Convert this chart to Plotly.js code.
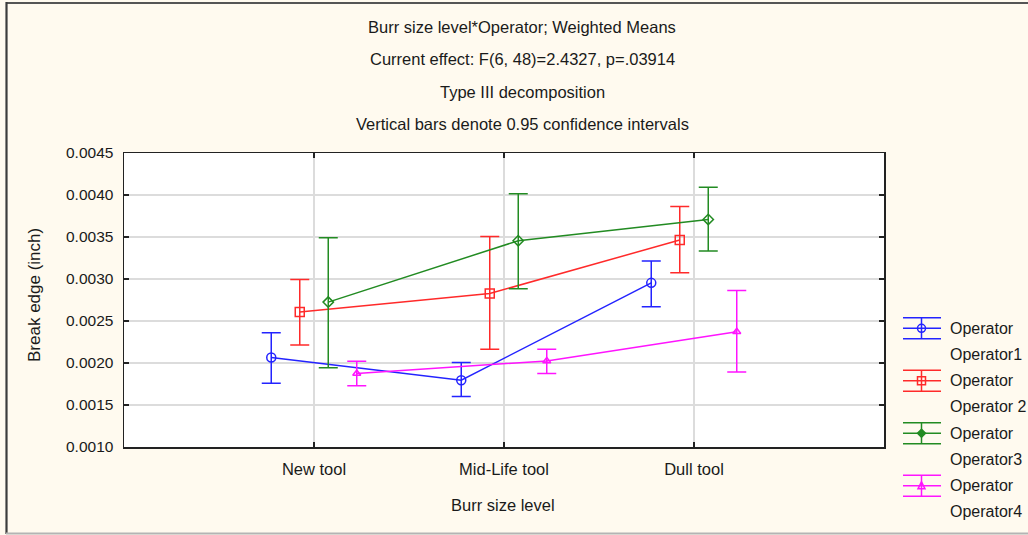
<!DOCTYPE html>
<html>
<head>
<meta charset="utf-8">
<script src="https://cdn.plot.ly/plotly-3.0.1.min.js"></script>
<style>
  html, body { margin: 0; padding: 0; background: #fffaef; }
  #chart { width: 1028px; height: 535px; }
</style>
</head>
<body>
<div id="chart"></div>
<script>
// ---- data ----
const categories = ['New tool', 'Mid-Life tool', 'Dull tool'];
const seriesNames = ['Operator1', 'Operator 2', 'Operator3', 'Operator4'];

const op1Mean  = [0.002065, 0.001795, 0.002954];
const op1Upper = [0.002361, 0.002005, 0.003215];
const op1Lower = [0.001760, 0.001602, 0.002669];

const op2Mean  = [0.002606, 0.002827, 0.003464];
const op2Upper = [0.002993, 0.003507, 0.003863];
const op2Lower = [0.002215, 0.002163, 0.003073];

const op3Mean  = [0.002725, 0.003456, 0.003709];
const op3Upper = [0.003492, 0.004014, 0.004093];
const op3Lower = [0.001942, 0.002883, 0.003334];

const op4Mean  = [0.001874, 0.002025, 0.002373];
const op4Upper = [0.002021, 0.002163, 0.002863];
const op4Lower = [0.001728, 0.001874, 0.001894];

const yTicks = [0.0010, 0.0015, 0.0020, 0.0025, 0.0030, 0.0035, 0.0040, 0.0045];

const titleLines = [
  'Burr size level*Operator; Weighted Means',
  'Current effect: F(6, 48)=2.4327, p=.03914',
  'Type III decomposition',
  'Vertical bars denote 0.95 confidence intervals'
];
const xTitle = 'Burr size level';
const yTitle = 'Break edge (inch)';

// ---- styling ----
const colors = ['#2323ff', '#ff2a2a', '#228b22', '#ff14ff'];
const symbols = ['circle-open', 'square-open', 'diamond-open', 'triangle-up-open'];
const msizes = [9, 9, 8, 7];
const offsets = [-0.225, -0.075, 0.075, 0.225];
const FONT = 'Liberation Sans, Arial, sans-serif';
const TXT = '#1a1a1a';

const means = [op1Mean, op2Mean, op3Mean, op4Mean];
const uppers = [op1Upper, op2Upper, op3Upper, op4Upper];
const lowers = [op1Lower, op2Lower, op3Lower, op4Lower];

const traces = means.map((m, s) => ({
  type: 'scatter',
  mode: 'lines+markers',
  name: seriesNames[s],
  x: categories.map((c, i) => i + offsets[s]),
  y: m,
  line: { color: colors[s], width: 1.5 },
  marker: { symbol: symbols[s], size: msizes[s], color: colors[s], line: { width: 1.5, color: colors[s] } },
  error_y: {
    type: 'data', symmetric: false,
    array: m.map((v, i) => uppers[s][i] - v),
    arrayminus: m.map((v, i) => v - lowers[s][i]),
    color: colors[s], thickness: 1.5, width: 9.5
  },
  showlegend: false,
  hoverinfo: 'x+y'
}));

// plot area in pixels
const L = 124, R = 884, T = 153, B = 447;
const px = p => (p - L) / (R - L);
const py = p => (B - p) / (B - T);

const annotations = [];
titleLines.forEach((t, i) => {
  annotations.push({ text: t, xref: 'paper', yref: 'paper', x: px(522), y: py(27 + 32.3 * i),
    xanchor: 'center', yanchor: 'middle', showarrow: false, font: { family: FONT, size: 16.5, color: TXT } });
});
annotations.push({ text: xTitle, xref: 'paper', yref: 'paper', x: px(503), y: py(505),
  xanchor: 'center', yanchor: 'middle', showarrow: false, font: { family: FONT, size: 16.5, color: TXT } });
annotations.push({ text: yTitle, xref: 'paper', yref: 'paper', x: px(34), y: py(295), textangle: -90,
  xanchor: 'center', yanchor: 'middle', showarrow: false, font: { family: FONT, size: 17, color: TXT } });

const shapes = [];
// legend drawn manually (error-bar glyph + two text lines)
seriesNames.forEach((nm, k) => {
  const cy = 328.3 + 52.5 * k;
  const c = colors[k];
  const ln = { color: c, width: 1.5 };
  [cy - 10.5, cy, cy + 10.5].forEach(yy => shapes.push({ type: 'line', xref: 'paper', yref: 'paper',
    x0: px(903), x1: px(941), y0: py(yy), y1: py(yy), line: ln }));
  shapes.push({ type: 'line', xref: 'paper', yref: 'paper', x0: px(921.5), x1: px(921.5),
    y0: py(cy - 10.5), y1: py(cy + 10.5), line: ln });
  const mx = 921.5;
  if (k === 0) {
    shapes.push({ type: 'circle', xref: 'paper', yref: 'paper', x0: px(mx - 4), x1: px(mx + 4), y0: py(cy - 4), y1: py(cy + 4), line: ln });
  } else if (k === 1) {
    shapes.push({ type: 'rect', xref: 'paper', yref: 'paper', x0: px(mx - 4), x1: px(mx + 4), y0: py(cy - 4), y1: py(cy + 4), line: ln });
  } else if (k === 2) {
    const pts = [[mx, cy - 4], [mx + 4, cy], [mx, cy + 4], [mx - 4, cy]];
    shapes.push({ type: 'path', xref: 'paper', yref: 'paper',
      path: 'M' + pts.map(p => px(p[0]) + ',' + py(p[1])).join(' L') + ' Z', line: ln, fillcolor: c });
  } else {
    const pts = [[mx, cy - 4], [mx + 3.5, cy + 3], [mx - 3.5, cy + 3]];
    shapes.push({ type: 'path', xref: 'paper', yref: 'paper',
      path: 'M' + pts.map(p => px(p[0]) + ',' + py(p[1])).join(' L') + ' Z', line: ln });
  }
  annotations.push({ text: 'Operator', xref: 'paper', yref: 'paper', x: px(948), y: py(cy),
    xanchor: 'left', yanchor: 'middle', showarrow: false, font: { family: FONT, size: 16, color: TXT } });
  annotations.push({ text: nm, xref: 'paper', yref: 'paper', x: px(948), y: py(cy + 26),
    xanchor: 'left', yanchor: 'middle', showarrow: false, font: { family: FONT, size: 16, color: TXT } });
});

// outer frame lines
shapes.push({ type: 'line', xref: 'paper', yref: 'paper', x0: px(6), x1: px(1030), y0: py(3), y1: py(3), line: { color: '#555', width: 2.2 } });
shapes.push({ type: 'line', xref: 'paper', yref: 'paper', x0: px(6.5), x1: px(6.5), y0: py(2), y1: py(534), line: { color: '#3c3c3c', width: 2.2 } });
shapes.push({ type: 'line', xref: 'paper', yref: 'paper', x0: px(6), x1: px(1030), y0: py(533.5), y1: py(533.5), line: { color: '#b4b4b4', width: 2 } });

const layout = {
  width: 1028, height: 535,
  paper_bgcolor: '#fffaef',
  plot_bgcolor: '#ffffff',
  margin: { l: L, r: 1028 - R, t: T, b: 535 - B, pad: 0 },
  showlegend: false,
  font: { family: FONT, color: TXT },
  xaxis: {
    range: [-1, 3],
    tickvals: categories.map((c, i) => i),
    ticktext: categories,
    showgrid: true, gridcolor: '#dcdcdc', gridwidth: 1.5,
    zeroline: false,
    showline: true, linecolor: '#222', linewidth: 1.5, mirror: 'ticks',
    ticks: 'inside', ticklen: 5, tickcolor: '#222', tickwidth: 1.2,
    tickfont: { family: FONT, size: 16.5, color: TXT },
    ticklabelstandoff: 7
  },
  yaxis: {
    range: [0.0010, 0.0045],
    tickvals: yTicks,
    tickformat: '.4f',
    showgrid: true, gridcolor: '#dcdcdc', gridwidth: 1.5,
    zeroline: false,
    showline: true, linecolor: '#222', linewidth: 1.5, mirror: 'ticks',
    ticks: 'inside', ticklen: 5, tickcolor: '#222', tickwidth: 1.2,
    tickfont: { family: FONT, size: 15.5, color: TXT },
    ticklabelstandoff: 6
  },
  annotations: annotations,
  shapes: shapes
};

Plotly.newPlot('chart', traces, layout, { displayModeBar: false, staticPlot: true });
</script>
</body>
</html>
